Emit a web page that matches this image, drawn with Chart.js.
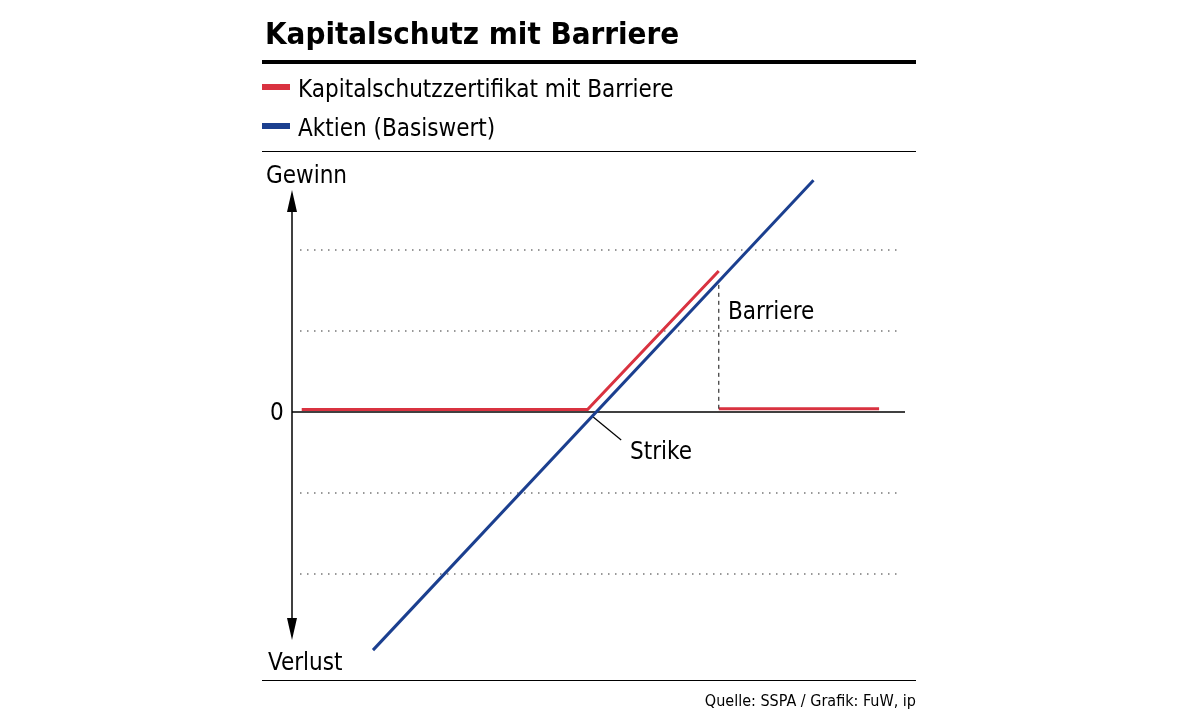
<!DOCTYPE html>
<html>
<head>
<meta charset="utf-8">
<script src="https://cdn.jsdelivr.net/npm/chart.js@4"></script>
<style>
  html, body { margin: 0; padding: 0; background: #fff; }
  #wrap { width: 1179px; height: 713px; position: relative; }
</style>
</head>
<body>
<div id="wrap"><canvas id="chart" width="1179" height="713"></canvas></div>
<script>
// Payoff lines (x: underlying level, y: profit/loss; 0 = strike level)
const aktienX = [1.0, 6.44];
const aktienY = [-2.94, 2.86];
const zertX = [0.12, 3.65, 5.27, null, 5.27, 7.25];
const zertY = [0.03, 0.03, 1.74, null, 0.04, 0.04];
const barriereX = [5.27, 5.27];
const barriereY = [1.57, 0.04];
const gridLevels = [-2, -1, 1, 2];
const strike = [3.67, 0];

const RED = '#d93240';
const BLUE = '#1b3f8f';
const FONT = '"DejaVu Sans Condensed", "Liberation Sans Narrow", "Roboto", sans-serif';

function pts(xs, ys) {
    return xs.map((x, i) => (x === null ? { x: null, y: null } : { x: x, y: ys[i] }));
}

const decor = {
    id: 'decor',
    beforeDatasetsDraw(chart) {
        const ctx = chart.ctx;
        const xs = chart.scales.x, ys = chart.scales.y;
        const x0 = xs.getPixelForValue(0);
        ctx.save();
        // dotted grid lines
        ctx.strokeStyle = '#333';
        ctx.lineWidth = 1.2;
        ctx.setLineDash([1.5, 5.5]);
        gridLevels.forEach(v => {
            const y = ys.getPixelForValue(v);
            ctx.beginPath();
            ctx.moveTo(x0 + 8, y);
            ctx.lineTo(xs.getPixelForValue(7.5), y);
            ctx.stroke();
        });
        ctx.setLineDash([]);
        // zero line
        const y0 = ys.getPixelForValue(0);
        ctx.strokeStyle = '#000';
        ctx.lineWidth = 1.5;
        ctx.beginPath();
        ctx.moveTo(x0, y0);
        ctx.lineTo(xs.getPixelForValue(7.57), y0);
        ctx.stroke();
        // vertical axis with arrows
        const top = 190, bot = 640;
        ctx.beginPath();
        ctx.moveTo(x0, top + 10);
        ctx.lineTo(x0, bot - 10);
        ctx.stroke();
        ctx.fillStyle = '#000';
        ctx.beginPath();
        ctx.moveTo(x0, top); ctx.lineTo(x0 - 5, top + 22); ctx.lineTo(x0 + 5, top + 22); ctx.closePath(); ctx.fill();
        ctx.beginPath();
        ctx.moveTo(x0, bot); ctx.lineTo(x0 - 5, bot - 22); ctx.lineTo(x0 + 5, bot - 22); ctx.closePath(); ctx.fill();
        // strike leader
        const sx = xs.getPixelForValue(strike[0]), sy = ys.getPixelForValue(strike[1]);
        ctx.lineWidth = 1.2;
        ctx.beginPath();
        ctx.moveTo(sx + 4, sy + 5);
        ctx.lineTo(sx + 32, sy + 28);
        ctx.stroke();
        ctx.restore();
    },
    afterDraw(chart) {
        const ctx = chart.ctx;
        ctx.save();
        ctx.fillStyle = '#000';
        ctx.textBaseline = 'alphabetic';
        ctx.font = 'bold 31px ' + FONT;
        ctx.fillText('Kapitalschutz mit Barriere', 265, 44);
        ctx.fillRect(262, 60, 654, 4);
        ctx.fillRect(262, 151, 654, 1);
        ctx.fillRect(262, 680, 654, 1);
        // legend
        ctx.font = '24px ' + FONT;
        ctx.fillStyle = RED; ctx.fillRect(262, 84, 28, 6);
        ctx.fillStyle = BLUE; ctx.fillRect(262, 123, 28, 6);
        ctx.fillStyle = '#000';
        ctx.fillText('Kapitalschutzzertifikat mit Barriere', 298, 97);
        ctx.fillText('Aktien (Basiswert)', 298, 136);
        // labels
        ctx.fillText('Gewinn', 266, 183);
        ctx.fillText('Verlust', 268, 670);
        ctx.fillText('0', 270, 420);
        ctx.fillText('Barriere', 728, 319);
        ctx.fillText('Strike', 630, 459);
        ctx.font = '16px ' + FONT;
        ctx.textAlign = 'right';
        ctx.fillText('Quelle: SSPA / Grafik: FuW, ip', 916, 706);
        ctx.restore();
    }
};

new Chart(document.getElementById('chart'), {
    type: 'scatter',
    data: {
        datasets: [
            { data: pts(barriereX, barriereY), showLine: true, borderColor: '#333', borderWidth: 1.2,
              borderDash: [4, 4], pointRadius: 0 },
            { data: pts(aktienX, aktienY), showLine: true, borderColor: BLUE, borderWidth: 3, pointRadius: 0 },
            { data: pts(zertX, zertY), showLine: true, spanGaps: false, borderColor: RED, borderWidth: 3, pointRadius: 0 }
        ]
    },
    options: {
        responsive: false,
        animation: false,
        layout: { padding: { left: 292, right: 274, top: 169, bottom: 58 } },
        plugins: { legend: { display: false }, tooltip: { enabled: false } },
        scales: {
            x: { type: 'linear', min: 0, max: 7.57, display: false },
            y: { type: 'linear', min: -3, max: 3, display: false }
        }
    },
    plugins: [decor]
});
</script>
</body>
</html>
